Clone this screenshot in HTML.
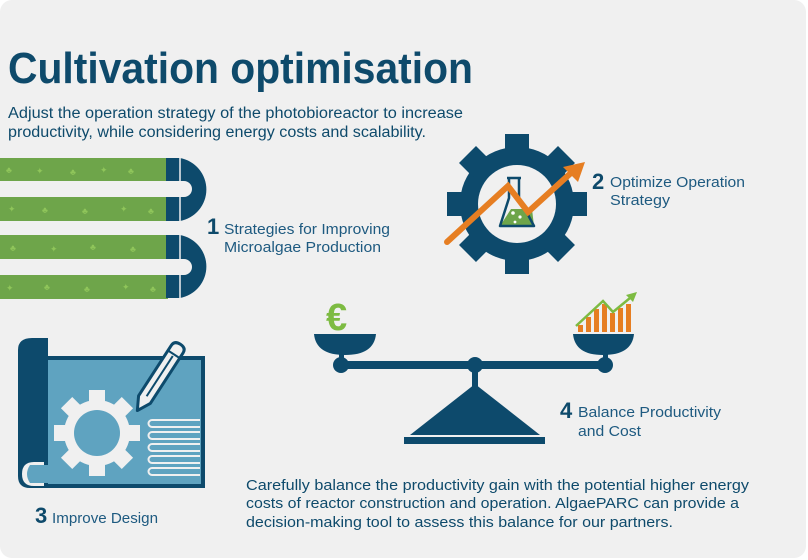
<!DOCTYPE html>
<html><head><meta charset="utf-8"><style>
html,body{margin:0;padding:0;background:#fff;width:808px;height:560px;overflow:hidden}
svg{display:block}
text{font-family:"Liberation Sans",sans-serif}
</style></head><body>
<svg width="808" height="560" viewBox="0 0 808 560" xmlns="http://www.w3.org/2000/svg">
<rect x="0" y="0" width="806" height="558" rx="12" fill="#f0f0f0"/>
<text x="8" y="83" font-size="44" font-weight="bold" fill="#0e4a6b" textLength="465" lengthAdjust="spacingAndGlyphs">Cultivation optimisation</text>
<text x="8" y="118" font-size="15.5" fill="#0e4a6b" textLength="455" lengthAdjust="spacingAndGlyphs">Adjust the operation strategy of the photobioreactor to increase</text>
<text x="8" y="137" font-size="15.5" fill="#0e4a6b" textLength="418" lengthAdjust="spacingAndGlyphs">productivity, while considering energy costs and scalability.</text>

<!-- pipes -->
<g fill="#6ea54a">
<rect x="0" y="158" width="168" height="23"/>
<rect x="0" y="197" width="168" height="24"/>
<rect x="0" y="235" width="168" height="24"/>
<rect x="0" y="275" width="168" height="24"/>
</g>
<g fill="#8fc55a" font-size="9">
<text x="6" y="173">♣</text><text x="36" y="174">✦</text><text x="70" y="175">♣</text><text x="100" y="173">✦</text><text x="128" y="174">♣</text>
<text x="8" y="212">✦</text><text x="42" y="213">♣</text><text x="82" y="214">♣</text><text x="120" y="212">✦</text><text x="148" y="214">♣</text>
<text x="10" y="251">♣</text><text x="50" y="252">✦</text><text x="90" y="250">♣</text><text x="130" y="252">♣</text>
<text x="6" y="291">✦</text><text x="44" y="290">♣</text><text x="84" y="292">♣</text><text x="122" y="290">✦</text><text x="150" y="292">♣</text>
</g>
<g fill="#0d4a6c">
<path d="M166 158 H180 A32 32 0 0 1 180 221 H166 V197 H184 A8 8 0 0 0 184 181 H166 Z"/>
<path d="M166 235 H180 A32 32 0 0 1 180 298 H166 V275 H184 A8 8 0 0 0 184 259 H166 Z"/>
</g>
<g stroke="#f0f0f0" stroke-width="1.5"><line x1="180" y1="156" x2="180" y2="223"/><line x1="180" y1="233" x2="180" y2="300"/></g>
<text x="207" y="234" font-size="22" font-weight="bold" fill="#0e4a6b">1</text>
<text x="224" y="234" font-size="14.5" fill="#1e5a80" textLength="166" lengthAdjust="spacingAndGlyphs">Strategies for Improving</text>
<text x="224" y="252" font-size="14.5" fill="#1e5a80" textLength="157" lengthAdjust="spacingAndGlyphs">Microalgae Production</text>

<!-- gear 2 -->
<g fill="#0d4a6c" transform="translate(517,204)">
<circle r="57"/>
<g id="t"><rect x="-12" y="-70" width="24" height="20"/></g>
<use href="#t" transform="rotate(45)"/><use href="#t" transform="rotate(90)"/><use href="#t" transform="rotate(135)"/>
<use href="#t" transform="rotate(180)"/><use href="#t" transform="rotate(225)"/><use href="#t" transform="rotate(270)"/><use href="#t" transform="rotate(315)"/>
<circle r="39" fill="#f0f0f0"/>
</g>
<path d="M511 209 L532 209 L534 226 L500 226 Z" fill="#6ea54a"/>
<path d="M507 178 H521 M509 178 V198 L500 226 H534 L519 198 V178" fill="none" stroke="#0d4a6c" stroke-width="2.5" stroke-linejoin="round"/>
<circle cx="513" cy="213" r="1.8" fill="#fff"/><circle cx="520" cy="217" r="1.6" fill="#fff"/><circle cx="515" cy="222" r="1.4" fill="#fff"/>
<polyline points="447,242 508,186 528,212 572,172" fill="none" stroke="#e67e22" stroke-width="6" stroke-linecap="round" stroke-linejoin="miter"/>
<polygon points="585,162 563,167 578,182" fill="#e67e22"/>
<text x="592" y="189" font-size="22" font-weight="bold" fill="#0e4a6b">2</text>
<text x="610" y="187" font-size="14.5" fill="#1e5a80" textLength="135" lengthAdjust="spacingAndGlyphs">Optimize Operation</text>
<text x="610" y="205" font-size="14.5" fill="#1e5a80" textLength="60" lengthAdjust="spacingAndGlyphs">Strategy</text>

<!-- blueprint -->
<rect x="46" y="358" width="157" height="128" fill="#5fa3c0" stroke="#0d4a6c" stroke-width="4"/>
<path d="M18 350 Q18 338 32 338 H48 V462 H34 Q22 462 22 474 Q22 486 34 486 H48 V488 H30 Q18 488 18 476 Z" fill="#0d4a6c"/>
<path d="M30 465 H48 V483 H30 Q24 474 30 465 Z" fill="#5fa3c0"/>
<g fill="#f0f0f0" transform="translate(97,433)">
<circle r="33"/>
<g id="t2"><rect x="-8" y="-43" width="16" height="14"/></g>
<use href="#t2" transform="rotate(45)"/><use href="#t2" transform="rotate(90)"/><use href="#t2" transform="rotate(135)"/>
<use href="#t2" transform="rotate(180)"/><use href="#t2" transform="rotate(225)"/><use href="#t2" transform="rotate(270)"/><use href="#t2" transform="rotate(315)"/>
<circle r="23" fill="#5fa3c0"/>
</g>
<g fill="none" stroke="#f0f0f0" stroke-width="2">
<path d="M200 420 H152 a3.5 3.5 0 0 0 0 7 H200"/>
<path d="M200 432 H152 a3.5 3.5 0 0 0 0 7 H200"/>
<path d="M200 444 H152 a3.5 3.5 0 0 0 0 7 H200"/>
<path d="M200 456 H152 a3.5 3.5 0 0 0 0 7 H200"/>
<path d="M200 468 H152 a3.5 3.5 0 0 0 0 7 H200"/>
</g>
<g transform="translate(139,408) rotate(33)">
<path d="M-7 -10 L0 3 L7 -10 V-70 Q7 -76 0 -76 Q-7 -76 -7 -70 Z" fill="#f0f0f0" stroke="#0d4a6c" stroke-width="3" stroke-linejoin="round"/>
<line x1="0" y1="-14" x2="0" y2="-62" stroke="#0d4a6c" stroke-width="2"/>
<line x1="-7" y1="-64" x2="7" y2="-64" stroke="#0d4a6c" stroke-width="2"/>
</g>
<text x="35" y="523" font-size="22" font-weight="bold" fill="#0e4a6b">3</text>
<text x="52" y="523" font-size="14.5" fill="#1e5a80" textLength="106" lengthAdjust="spacingAndGlyphs">Improve Design</text>

<!-- scale -->
<g fill="#0d4a6c">
<rect x="337" y="361" width="272" height="8"/>
<circle cx="341" cy="365" r="8"/><circle cx="475" cy="365" r="8"/><circle cx="605" cy="365" r="8"/>
<rect x="339" y="352" width="5" height="10"/><rect x="603" y="352" width="5" height="10"/>
<rect x="472" y="368" width="6" height="20"/>
<path d="M314 334 H376 Q374 355 345 355 Q316 355 314 334 Z"/>
<path d="M573 334 H634 Q632 355 603 355 Q575 355 573 334 Z"/>
<polygon points="475,384 410,435 540,435"/>
<rect x="404" y="437" width="141" height="7"/>
</g>
<text x="326" y="330" font-size="38" font-weight="bold" fill="#7dbb42">€</text>
<g fill="#e67e22">
<rect x="578" y="325" width="5" height="7"/><rect x="586" y="317" width="5" height="15"/><rect x="594" y="309" width="5" height="23"/>
<rect x="602" y="304" width="5" height="28"/><rect x="610" y="313" width="5" height="19"/><rect x="618" y="308" width="5" height="24"/><rect x="626" y="304" width="5" height="28"/>
</g>
<polyline points="576,326 603,301 613,312 630,298" fill="none" stroke="#7dbb42" stroke-width="2.5"/>
<polygon points="637,292 626,295 633,302" fill="#7dbb42"/>
<text x="560" y="418" font-size="22" font-weight="bold" fill="#0e4a6b">4</text>
<text x="578" y="417" font-size="14.5" fill="#1e5a80" textLength="143" lengthAdjust="spacingAndGlyphs">Balance Productivity</text>
<text x="578" y="436" font-size="14.5" fill="#1e5a80" textLength="63" lengthAdjust="spacingAndGlyphs">and Cost</text>

<g font-size="15" fill="#0e4a6b">
<text x="246" y="490" textLength="503" lengthAdjust="spacingAndGlyphs">Carefully balance the productivity gain with the potential higher energy</text>
<text x="246" y="508" textLength="493" lengthAdjust="spacingAndGlyphs">costs of reactor construction and operation. AlgaePARC can provide a</text>
<text x="246" y="527" textLength="427" lengthAdjust="spacingAndGlyphs">decision-making tool to assess this balance for our partners.</text>
</g>
</svg>
</body></html>
